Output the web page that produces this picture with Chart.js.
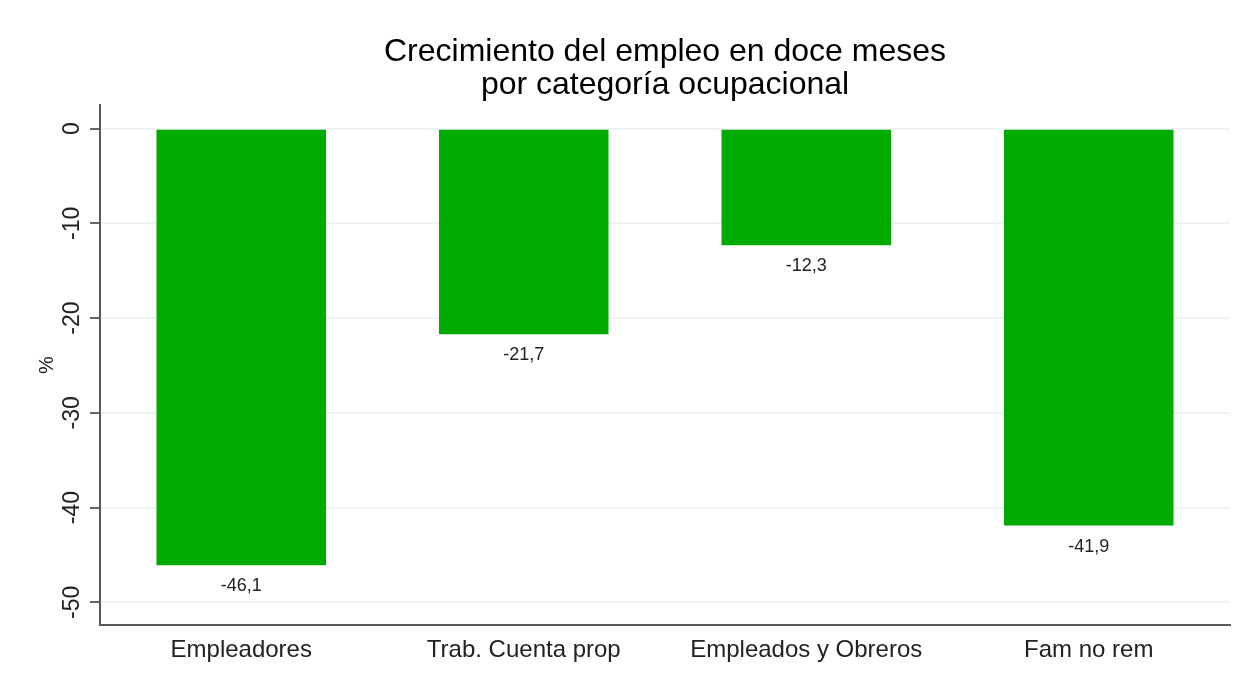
<!DOCTYPE html>
<html>
<head>
<meta charset="utf-8">
<script src="https://cdn.jsdelivr.net/npm/chart.js@4.4.1/dist/chart.umd.min.js"></script>
<style>
  html, body { margin: 0; padding: 0; background: #fff; }
  #wrap { width: 1250px; height: 681px; }
</style>
</head>
<body>
<div id="wrap"><canvas id="chart"></canvas></div>
<script>
const categories = ['Empleadores', 'Trab. Cuenta prop', 'Empleados y Obreros', 'Fam no rem'];
const growthValues = [-46.1, -21.7, -12.3, -41.9];
const yTicks = [0, -10, -20, -30, -40, -50];
const titleLines = ['Crecimiento del empleo en doce meses', 'por categoría ocupacional'];

const FONT = "'Liberation Sans', Arial, sans-serif";

function formatComma(v) {
  return v.toFixed(1).replace('.', ',');
}

// title over the plot area, rotated y tick labels (Stata style), axis title, bar value labels
const customLabels = {
  id: 'customLabels',
  afterDraw(chart) {
    const ctx = chart.ctx;
    const area = chart.chartArea;
    const yScale = chart.scales.y;
    ctx.save();
    ctx.textAlign = 'center';
    ctx.textBaseline = 'middle';

    ctx.fillStyle = '#000';
    ctx.font = `32px ${FONT}`;
    const cx = (area.left + area.right) / 2;
    titleLines.forEach((line, i) => ctx.fillText(line, cx, 52 + i * 33));

    ctx.fillStyle = '#222';
    ctx.font = `23px ${FONT}`;
    yTicks.forEach((t) => {
      const y = yScale.getPixelForValue(t);
      ctx.save();
      ctx.translate(73, y);
      ctx.rotate(-Math.PI / 2);
      ctx.fillText(String(t), 0, 0);
      ctx.restore();
    });

    ctx.font = `20px ${FONT}`;
    ctx.save();
    ctx.translate(47, (area.top + area.bottom) / 2);
    ctx.rotate(-Math.PI / 2);
    ctx.fillText('%', 0, 0);
    ctx.restore();

    ctx.font = `18px ${FONT}`;
    const meta = chart.getDatasetMeta(0);
    meta.data.forEach((bar, i) => {
      ctx.fillText(formatComma(growthValues[i]), bar.x, bar.y + 21);
    });
    ctx.restore();
  }
};

new Chart(document.getElementById('chart'), {
  type: 'bar',
  data: {
    labels: categories,
    datasets: [{
      data: growthValues,
      backgroundColor: '#00ab00',
      borderWidth: 0,
      categoryPercentage: 0.8,
      barPercentage: 0.75,
    }],
  },
  options: {
    responsive: true,
    maintainAspectRatio: false,
    animation: false,
    layout: { padding: { left: 0, right: 20, top: 105, bottom: 0 } },
    plugins: {
      legend: { display: false },
      tooltip: { enabled: false },
      title: { display: false },
    },
    scales: {
      x: {
        grid: { display: false, drawTicks: false },
        border: { display: true, color: '#5a5a5a', width: 2 },
        ticks: { color: '#222', font: { family: FONT, size: 24 }, padding: 11 },
        afterFit(scale) { scale.height = 56; },
      },
      y: {
        min: -52.4,
        max: 2.5,
        afterBuildTicks(scale) {
          scale.ticks = yTicks.map((v) => ({ value: v }));
        },
        afterFit(scale) { scale.width = 100; },
        grid: { color: '#eef3f3', lineWidth: 2, tickColor: '#666', tickLength: 10, drawTicks: true },
        border: { display: true, color: '#5a5a5a', width: 2 },
        ticks: { display: false },
      },
    },
  },
  plugins: [customLabels],
});
</script>
</body>
</html>
